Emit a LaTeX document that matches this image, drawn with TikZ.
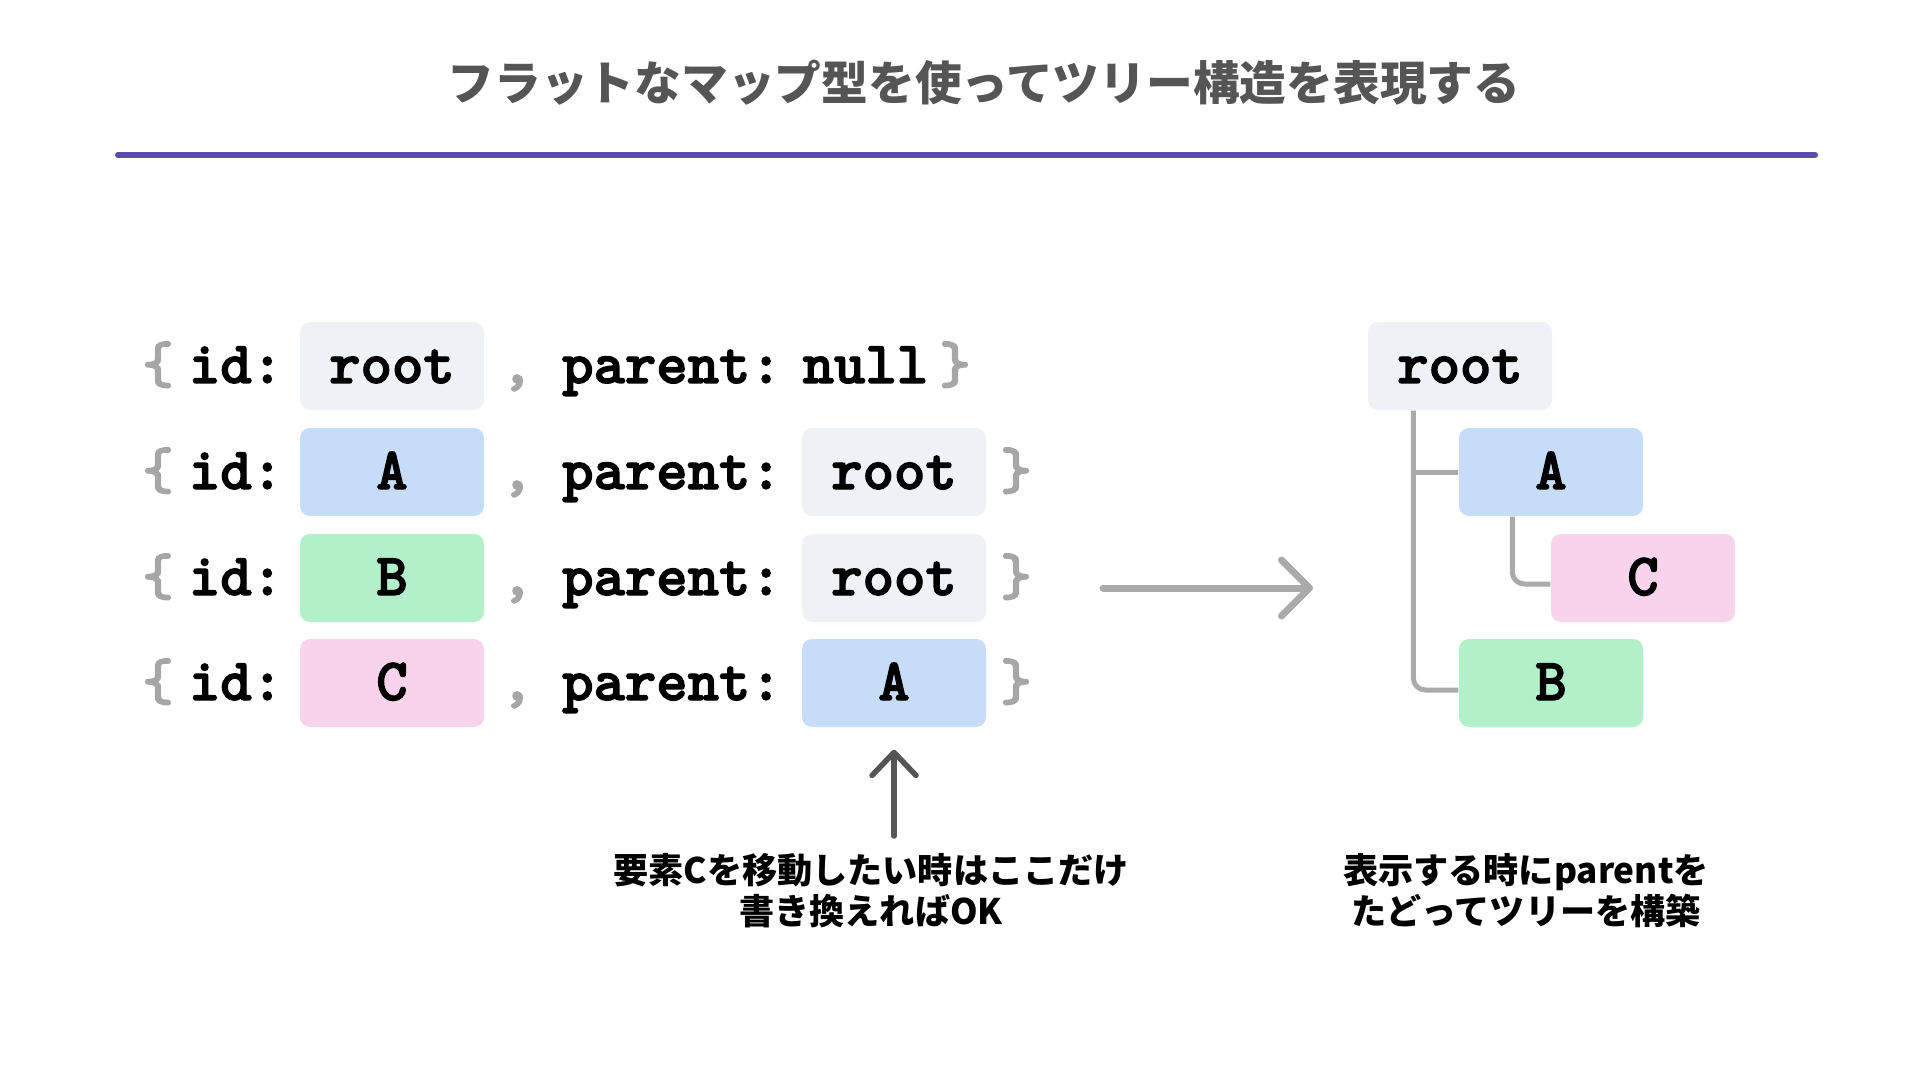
\documentclass[tikz,border=0pt]{standalone}
\usepackage{fontspec}
\usepackage{tikz}
\usetikzlibrary{arrows.meta}
\newfontfamily\jpfont{Noto Sans CJK JP}
\newfontfamily\codefont{lmmonolt10-bold}[Extension=.otf, FakeBold=2.2]
\definecolor{boxgray}{HTML}{EEF1F5}
\definecolor{boxblue}{HTML}{C6DCF8}
\definecolor{boxgreen}{HTML}{B2F0C9}
\definecolor{boxpink}{HTML}{F8D4EC}
\definecolor{rulepurple}{HTML}{5A4BB5}
\definecolor{titlegray}{HTML}{555555}
\definecolor{bracegray}{HTML}{A6A6A6}
\definecolor{linkgray}{HTML}{AAAAAA}
\tikzset{
  code/.style={font=\codefont\fontsize{17}{20}\selectfont, inner sep=0pt, text height=0.42cm, text depth=0.08cm},
  cell/.style={code, rounded corners=0.1cm, minimum width=1.84cm, minimum height=0.88cm},
  punct/.style={code, text=bracegray},
  note/.style={font=\jpfont\bfseries\fontsize{10}{11.7}\selectfont, align=center, inner sep=0pt},
  link/.style={draw=linkgray, line width=0.05cm, rounded corners=0.12cm},
  bigarrow/.style={draw=linkgray, line width=0.07cm, line cap=round, -{Straight Barb[length=0.28cm, width=0.56cm, round]}},
  hintarrow/.style={draw=titlegray, line width=0.055cm, line cap=round, -{Straight Barb[length=0.23cm, width=0.44cm, round]}}
}
\begin{document}
\begin{tikzpicture}
      \useasboundingbox (0,0) rectangle (19.2,-10.8);
      % title and rule
      \node at (9.84,-0.83)[font=\jpfont\bfseries\fontsize{13.3}{16}\selectfont, text=titlegray] (title){フラットなマップ型を使ってツリー構造を表現する};
      \draw[rulepurple, line width=0.06cm, line cap=round] (1.18,-1.55) -- (18.15,-1.55);
      % flat map, row root
      \node at (1.58,-3.66)[punct] (lbRoot){\{};
      \node at (2.36,-3.66)[code] (keyRoot){id:};
      \node at (3.92,-3.66)[cell, fill=boxgray] (idRoot){root};
      \node at (5.17,-3.66)[punct] (cmRoot){,};
      \node at (6.72,-3.66)[code] (pkRoot){parent:};
      \node at (8.02,-3.66)[code, anchor=west] (parRoot){null};
      \node at (9.55,-3.66)[punct] (rbRoot){\}};
      % row A
      \node at (1.58,-4.72)[punct] (lbA){\{};
      \node at (2.36,-4.72)[code] (keyA){id:};
      \node at (3.92,-4.72)[cell, fill=boxblue] (idA){A};
      \node at (5.17,-4.72)[punct] (cmA){,};
      \node at (6.72,-4.72)[code] (pkA){parent:};
      \node at (8.94,-4.72)[cell, fill=boxgray] (parA){root};
      \node at (10.16,-4.72)[punct] (rbA){\}};
      % row B
      \node at (1.58,-5.78)[punct] (lbB){\{};
      \node at (2.36,-5.78)[code] (keyB){id:};
      \node at (3.92,-5.78)[cell, fill=boxgreen] (idB){B};
      \node at (5.17,-5.78)[punct] (cmB){,};
      \node at (6.72,-5.78)[code] (pkB){parent:};
      \node at (8.94,-5.78)[cell, fill=boxgray] (parB){root};
      \node at (10.16,-5.78)[punct] (rbB){\}};
      % row C
      \node at (1.58,-6.83)[punct] (lbC){\{};
      \node at (2.36,-6.83)[code] (keyC){id:};
      \node at (3.92,-6.83)[cell, fill=boxpink] (idC){C};
      \node at (5.17,-6.83)[punct] (cmC){,};
      \node at (6.72,-6.83)[code] (pkC){parent:};
      \node at (8.94,-6.83)[cell, fill=boxblue] (parC){A};
      \node at (10.16,-6.83)[punct] (rbC){\}};
      % tree
      \node at (14.60,-3.66)[cell, fill=boxgray] (tRoot){root};
      \node at (15.51,-4.72)[cell, fill=boxblue] (tA){A};
      \node at (16.43,-5.78)[cell, fill=boxpink] (tC){C};
      \node at (15.51,-6.83)[cell, fill=boxgreen] (tB){B};
      \coordinate (trunk) at ([xshift=0.46cm]tRoot.south west);
      \coordinate (twig) at ([xshift=0.54cm]tA.south west);
      \draw[link] (trunk) |- ([yshift=-0.07cm]tB.west);
      \draw[link] (trunk |- tA.west) -- (tA.west);
      \draw[link] (twig) |- ([yshift=-0.06cm]tC.west);
      % arrows and notes
      \coordinate (goFrom) at (11.03,-5.88);
      \coordinate (goTo) at (13.13,-5.88);
      \draw[bigarrow] (goFrom) -- (goTo);
      \coordinate (hintFoot) at (8.94,-8.36);
      \draw[hintarrow, shorten >=0.22cm] (hintFoot) -- (parC.south);
      \node at (8.71,-8.91)[note] (hintNote){要素Cを移動したい時はここだけ\\書き換えればOK};
      \node at (15.26,-8.91)[note] (buildNote){表示する時にparentを\\たどってツリーを構築};
\end{tikzpicture}
\end{document}
